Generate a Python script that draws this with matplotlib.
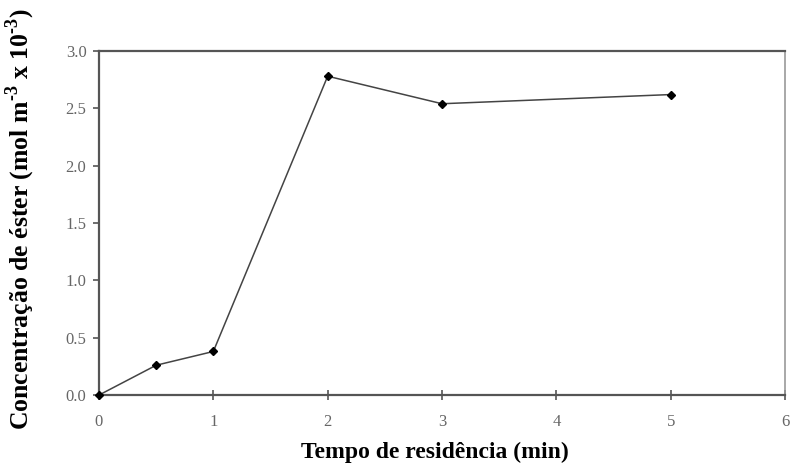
import matplotlib.pyplot as plt

# residence time (min) vs ester concentration (mol m^-3 x 10^-3)
tempo = [0, 0.5, 1, 2, 3, 5]
conc = [0.0, 0.26, 0.38, 2.78, 2.54, 2.62]
xticks = [0, 1, 2, 3, 4, 5, 6]
yticks = [0.0, 0.5, 1.0, 1.5, 2.0, 2.5, 3.0]

plt.rcParams['font.family'] = ['Liberation Serif', 'DejaVu Serif']
plt.rcParams['mathtext.fontset'] = 'custom'
plt.rcParams['mathtext.rm'] = 'Liberation Serif:bold'
plt.rcParams['mathtext.bf'] = 'Liberation Serif:bold'

fig = plt.figure(figsize=(7.9, 4.72), dpi=100)
ax = fig.add_axes([0.1253, 0.163, 0.8684, 0.729])

ax.plot(tempo, conc, color='#444444', lw=1.1, marker='D', ms=4.5,
        mfc='black', mec='black', zorder=3, clip_on=False)

ax.set_xlim(0, 6)
ax.set_ylim(0, 3.0)
ax.set_xticks(xticks)
ax.set_yticks(yticks)
ax.set_xticklabels([str(v) for v in xticks])
ax.set_yticklabels([f'{v:.1f}' for v in yticks])

for side in ['left', 'bottom', 'top']:
    ax.spines[side].set_color('#555555')
    ax.spines[side].set_linewidth(1.6)
ax.spines['right'].set_color('#999999')
ax.spines['right'].set_linewidth(1.2)

ax.tick_params(axis='x', direction='inout', length=7, width=1.2,
               colors='#555555', labelcolor='#666666', labelsize=12, pad=10)
ax.tick_params(axis='y', direction='out', length=4, width=1.2,
               colors='#555555', labelcolor='#666666', labelsize=12, pad=5)

ax.set_xlabel('Tempo de residência (min)', fontsize=17, fontweight='bold')
ax.xaxis.set_label_coords(0.489, -0.135)
fig.text(0.026, 0.535,
         r'Concentração de éster (mol m$^{\text{-3}}$ x 10$^{\text{-3}}$)',
         rotation=90, ha='center', va='center', fontsize=18.5,
         fontweight='bold')

fig.savefig('out.png', dpi=100)
